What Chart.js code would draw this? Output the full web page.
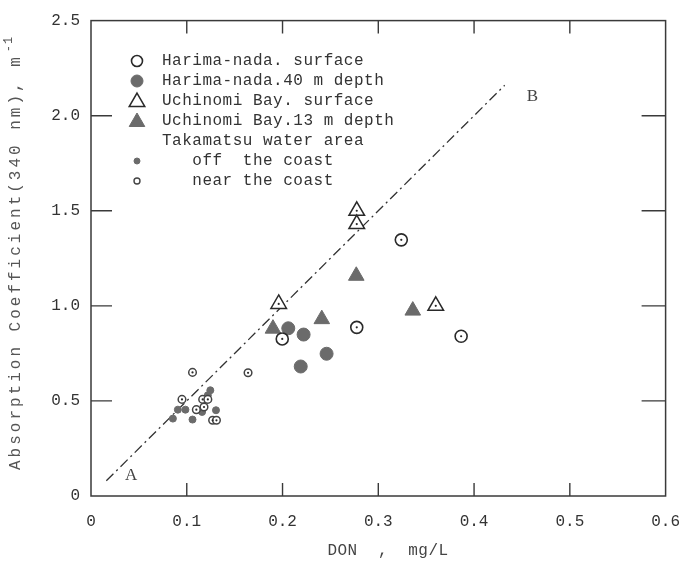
<!DOCTYPE html>
<html>
<head>
<meta charset="utf-8">
<script src="https://cdn.jsdelivr.net/npm/chart.js@4.4.0/dist/chart.umd.min.js"></script>
<style>
  body { margin: 0; background: #fff; }
  #wrap { width: 696px; height: 566px; }
</style>
</head>
<body>
<div id="wrap"><canvas id="mainChart"></canvas></div>
<script>
const xTicks = [0, 0.1, 0.2, 0.3, 0.4, 0.5, 0.6];
const yTicks = [0, 0.5, 1.0, 1.5, 2.0, 2.5];

// Harima-nada
const harimaSurfX = [0.324, 0.2775, 0.3865, 0.1997];
const harimaSurfY = [1.347, 0.887, 0.84, 0.826];
const harimaDeepX = [0.206, 0.222, 0.246, 0.219];
const harimaDeepY = [0.882, 0.849, 0.748, 0.681];

// Uchinomi Bay
const uchiSurfX = [0.2775, 0.2775, 0.196, 0.36];
const uchiSurfY = [1.50, 1.43, 1.01, 1.00];
const uchiDeepX = [0.277, 0.241, 0.336, 0.190];
const uchiDeepY = [1.158, 0.93, 0.975, 0.88];

// Takamatsu water area
const offCoastX = [0.0855, 0.0907, 0.0986, 0.106, 0.116, 0.1246, 0.122, 0.1305];
const offCoastY = [0.407, 0.454, 0.454, 0.402, 0.442, 0.556, 0.53, 0.451];
const nearCoastX = [0.106, 0.164, 0.095, 0.1166, 0.122, 0.118, 0.110, 0.127, 0.131];
const nearCoastY = [0.65, 0.648, 0.508, 0.508, 0.508, 0.468, 0.454, 0.398, 0.398];

// line A - B
const lineX = [0.016, 0.432];
const lineY = [0.08, 2.16];

const MONO = '"Liberation Mono", "DejaVu Sans Mono", monospace';
const INK = '#2a2a2a';
const GREY = '#6b6b6b';

const toPts = (xs, ys) => xs.map((x, i) => ({ x: x, y: ys[i] }));

const legendItems = [
    { text: 'Harima-nada. surface', style: 'circle', r: 5.5, fill: '#fff', stroke: INK, bw: 1.6 },
    { text: 'Harima-nada.40 m depth', style: 'circle', r: 6, fill: GREY, stroke: GREY, bw: 1 },
    { text: 'Uchinomi Bay. surface', style: 'triangle', r: 9, fill: '#fff', stroke: INK, bw: 1.5 },
    { text: 'Uchinomi Bay.13 m depth', style: 'triangle', r: 9, fill: GREY, stroke: GREY, bw: 1 },
    { text: 'Takamatsu water area', style: null },
    { text: '   off  the coast', style: 'circle', r: 3, fill: GREY, stroke: GREY, bw: 1 },
    { text: '   near the coast', style: 'circle', r: 3, fill: '#fff', stroke: '#444', bw: 1.4 }
];

function marker(ctx, style, x, y, r, fill, stroke, bw) {
    ctx.save();
    ctx.beginPath();
    if (style === 'circle') {
        ctx.arc(x, y, r, 0, Math.PI * 2);
    } else {
        ctx.moveTo(x, y - r);
        ctx.lineTo(x + r * Math.sqrt(3) / 2, y + r / 2);
        ctx.lineTo(x - r * Math.sqrt(3) / 2, y + r / 2);
        ctx.closePath();
    }
    ctx.fillStyle = fill;
    ctx.fill();
    ctx.lineWidth = bw;
    ctx.strokeStyle = stroke;
    ctx.stroke();
    ctx.restore();
}

const decorPlugin = {
    id: 'decor',
    afterDatasetsDraw(chart) {
        const ctx = chart.ctx;
        // centre dots on open markers
        chart.data.datasets.forEach((ds, i) => {
            if (!ds.dot) return;
            chart.getDatasetMeta(i).data.forEach(el => {
                ctx.beginPath();
                ctx.arc(el.x, el.y, 1.1, 0, Math.PI * 2);
                ctx.fillStyle = INK;
                ctx.fill();
            });
        });
    },
    afterDraw(chart) {
        const ctx = chart.ctx;
        const a = chart.chartArea;
        const xs = chart.scales.x, ys = chart.scales.y;
        ctx.save();
        ctx.strokeStyle = '#3a3a3a';
        ctx.lineWidth = 1.5;
        ctx.strokeRect(a.left, a.top, a.right - a.left, a.bottom - a.top);
        ctx.lineWidth = 1.4;
        ctx.beginPath();
        xTicks.slice(1, -1).forEach(v => {
            const px = xs.getPixelForValue(v);
            ctx.moveTo(px, a.bottom); ctx.lineTo(px, a.bottom - 13);
            ctx.moveTo(px, a.top); ctx.lineTo(px, a.top + 13);
        });
        yTicks.slice(1, -1).forEach(v => {
            const py = ys.getPixelForValue(v);
            ctx.moveTo(a.left, py); ctx.lineTo(a.left + 21, py);
            ctx.moveTo(a.right, py); ctx.lineTo(a.right - 24, py);
        });
        ctx.stroke();

        // A / B labels
        ctx.fillStyle = '#444';
        ctx.font = '17px "Liberation Serif", "DejaVu Serif", serif';
        ctx.textAlign = 'center';
        ctx.textBaseline = 'middle';
        ctx.fillText('A', xs.getPixelForValue(0.042), ys.getPixelForValue(0.11));
        ctx.fillText('B', xs.getPixelForValue(0.461), ys.getPixelForValue(2.10));

        // legend
        ctx.font = '16px ' + MONO;
        ctx.letterSpacing = '0.5px';
        ctx.textAlign = 'left';
        legendItems.forEach((it, i) => {
            const y = 61 + 20 * i;
            if (it.style) marker(ctx, it.style, 137, y + (it.style === 'triangle' ? 1 : 0), it.r, it.fill, it.stroke, it.bw);
            ctx.fillStyle = '#333';
            ctx.fillText(it.text, 162, y);
        });

        // x title
        ctx.fillStyle = '#444';
        ctx.textAlign = 'center';
        ctx.fillText('DON  ,  mg/L', 388, 551);

        // y title
        ctx.translate(16, 470);
        ctx.rotate(-Math.PI / 2);
        ctx.letterSpacing = '3px';
        ctx.textAlign = 'left';
        ctx.fillStyle = '#555';
        const t = 'Absorption Coefficient(340 nm), m';
        ctx.fillText(t, 0, 0);
        const w = ctx.measureText(t).width;
        ctx.font = '12px ' + MONO;
        ctx.letterSpacing = '1px';
        ctx.fillText('-1', w + 2, -7);
        ctx.restore();
    }
};

const ctxMain = document.getElementById('mainChart').getContext('2d');

const mainChart = new Chart(ctxMain, {
    type: 'scatter',
    data: {
        datasets: [{
            type: 'line',
            data: toPts(lineX, lineY),
            borderColor: '#333',
            borderWidth: 1.3,
            borderDash: [10, 4, 2, 4],
            pointRadius: 0,
            fill: false,
            order: 2
        }, {
            label: 'Harima-nada surface',
            data: toPts(harimaSurfX, harimaSurfY),
            pointStyle: 'circle',
            pointRadius: 6,
            backgroundColor: '#fff',
            borderColor: INK,
            borderWidth: 1.6,
            dot: true,
            order: 1
        }, {
            label: 'Harima-nada 40 m depth',
            data: toPts(harimaDeepX, harimaDeepY),
            pointStyle: 'circle',
            pointRadius: 6.5,
            backgroundColor: GREY,
            borderColor: GREY,
            borderWidth: 1,
            order: 1
        }, {
            label: 'Uchinomi Bay surface',
            data: toPts(uchiSurfX, uchiSurfY),
            pointStyle: 'triangle',
            pointRadius: 9,
            backgroundColor: '#fff',
            borderColor: INK,
            borderWidth: 1.5,
            dot: true,
            order: 1
        }, {
            label: 'Uchinomi Bay 13 m depth',
            data: toPts(uchiDeepX, uchiDeepY),
            pointStyle: 'triangle',
            pointRadius: 9,
            backgroundColor: GREY,
            borderColor: GREY,
            borderWidth: 1,
            order: 1
        }, {
            label: 'off the coast',
            data: toPts(offCoastX, offCoastY),
            pointStyle: 'circle',
            pointRadius: 3.5,
            backgroundColor: GREY,
            borderColor: GREY,
            borderWidth: 1,
            order: 1
        }, {
            label: 'near the coast',
            data: toPts(nearCoastX, nearCoastY),
            pointStyle: 'circle',
            pointRadius: 3.8,
            backgroundColor: '#fff',
            borderColor: '#444',
            borderWidth: 1.5,
            dot: true,
            order: 0
        }]
    },
    options: {
        responsive: true,
        maintainAspectRatio: false,
        animation: false,
        layout: { padding: { top: 19, right: 27, left: 0, bottom: 0 } },
        plugins: {
            legend: { display: false },
            tooltip: { enabled: false }
        },
        scales: {
            x: {
                type: 'linear',
                min: 0,
                max: 0.6,
                afterFit: s => { s.height = 70 },
                afterBuildTicks: s => { s.ticks = xTicks.map(v => ({ value: v })) },
                grid: { display: false, drawTicks: false },
                border: { display: false },
                ticks: {
                    padding: 16,
                    color: '#333',
                    font: { family: MONO, size: 16 },
                    callback: v => v === 0 ? '0' : v.toFixed(1)
                }
            },
            y: {
                type: 'linear',
                min: 0,
                max: 2.5,
                afterFit: s => { s.width = 91 },
                afterBuildTicks: s => { s.ticks = yTicks.map(v => ({ value: v })) },
                grid: { display: false, drawTicks: false },
                border: { display: false },
                ticks: {
                    padding: 11,
                    color: '#333',
                    font: { family: MONO, size: 16 },
                    callback: v => v === 0 ? '0' : v.toFixed(1)
                }
            }
        }
    },
    plugins: [decorPlugin]
});
</script>
</body>
</html>
